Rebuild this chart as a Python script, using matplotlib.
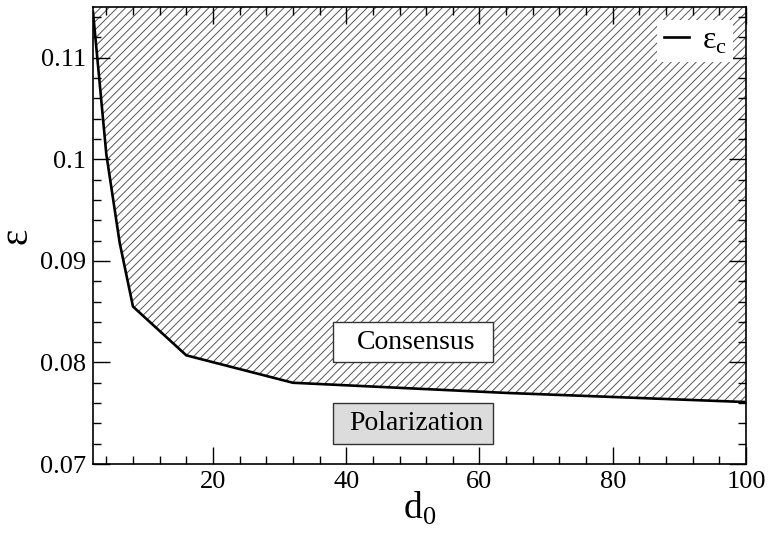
import matplotlib
matplotlib.use("Agg")
import matplotlib.pyplot as plt
from matplotlib.patches import Rectangle
from matplotlib.ticker import MultipleLocator

plt.rcParams["font.family"] = ["Liberation Serif", "DejaVu Serif"]
plt.rcParams["mathtext.fontset"] = "custom"
plt.rcParams["mathtext.rm"] = "Liberation Serif"
plt.rcParams["hatch.linewidth"] = 0.7

# critical threshold curve eps_c(d0)
d0 = [2, 4, 6, 8, 16, 32, 64, 100]
eps_c = [0.1145, 0.1005, 0.0918, 0.0855, 0.0807, 0.0780, 0.0770, 0.0761]

x_lim = (2, 100)
y_lim = (0.07, 0.115)

fig = plt.figure(figsize=(7.68, 5.35), dpi=100)
ax = fig.add_axes([0.1211, 0.1327, 0.8503, 0.8542])

# hatched consensus region above the curve
ax.fill_between(d0, eps_c, y_lim[1], facecolor="none", edgecolor="#555555",
                hatch="////", linewidth=0)
ax.plot(d0, eps_c, color="black", lw=1.9, label=r"ε$_\mathrm{c}$")

# region labels
ax.add_patch(Rectangle((38, 0.080), 24, 0.004, facecolor="white",
                       edgecolor="#333333", lw=1.0, zorder=3))
ax.text(50.5, 0.0820, "Consensus", ha="center", va="center", fontsize=20, zorder=4)
ax.add_patch(Rectangle((38, 0.072), 24, 0.004, facecolor="#dcdcdc",
                       edgecolor="#333333", lw=1.0, zorder=3))
ax.text(50.5, 0.0740, "Polarization", ha="center", va="center", fontsize=20, zorder=4)

ax.set_xlim(*x_lim)
ax.set_ylim(*y_lim)
ax.xaxis.set_major_locator(MultipleLocator(20))
ax.xaxis.set_minor_locator(MultipleLocator(4))
ax.yaxis.set_major_locator(MultipleLocator(0.01))
ax.yaxis.set_minor_locator(MultipleLocator(0.002))
ax.yaxis.set_major_formatter(plt.FuncFormatter(lambda v, p: f"{v:.2f}".rstrip("0")))
ax.tick_params(which="both", direction="in", top=True, right=True,
               labelsize=19, width=1.0, pad=5)
ax.tick_params(which="major", length=12)
ax.tick_params(which="minor", length=6)
for s in ax.spines.values():
    s.set_linewidth(1.2)

ax.set_xlabel(r"d$_\mathrm{0}$", fontsize=27, labelpad=-2)
ax.set_ylabel("ε", fontsize=28, labelpad=3)

leg = ax.legend(loc="upper right", fontsize=23, frameon=True, fancybox=False,
                handlelength=0.8, handletextpad=0.4, borderpad=0.2,
                borderaxespad=0.4)
leg.get_frame().set_edgecolor("none")
leg.get_frame().set_facecolor("white")
leg.get_frame().set_alpha(1.0)

fig.savefig("out.png", dpi=100)
